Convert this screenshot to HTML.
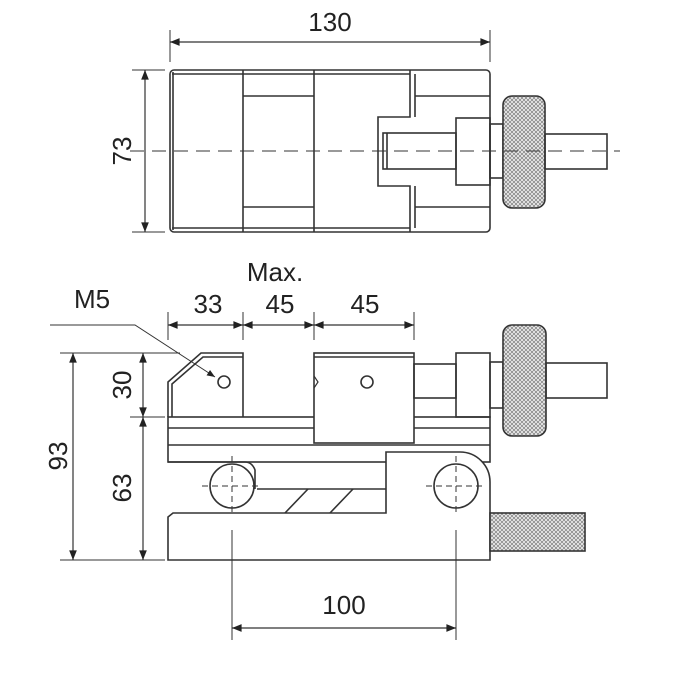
<!DOCTYPE html><html><head><style>body{margin:0;background:#fff}svg{display:block}text{font-family:"Liberation Sans",sans-serif;font-size:26px;fill:#222}</style></head><body>
<svg width="695" height="676" viewBox="0 0 695 676" xmlns="http://www.w3.org/2000/svg">
<defs>
<pattern id="k" width="4" height="4" patternUnits="userSpaceOnUse"><rect width="4" height="4" fill="#f2f2f2"/><path d="M0 0L4 4M4 0L0 4" stroke="#888" stroke-width="0.8"/></pattern>
<marker id="a" viewBox="0 0 10 10" refX="10" refY="5" markerWidth="11" markerHeight="8" orient="auto-start-reverse"><path d="M0 1L10 5L0 9z" fill="#222"/></marker>
</defs>
<g stroke="#333" stroke-width="1.6" fill="none">
<rect x="170" y="70" width="320" height="162" rx="4"/>
<line x1="173" y1="72" x2="173" y2="230"/>
<line x1="172" y1="74" x2="410" y2="74"/><line x1="172" y1="228" x2="410" y2="228"/>
<line x1="243" y1="70" x2="243" y2="232"/><line x1="314" y1="70" x2="314" y2="232"/>
<line x1="243" y1="96" x2="314" y2="96"/><line x1="243" y1="207" x2="314" y2="207"/>
<line x1="415" y1="96" x2="490" y2="96"/><line x1="415" y1="207" x2="490" y2="207"/>
<path d="M410 70V117H378V186H410V232"/><path d="M415 74V117M415 186V228"/>
<rect x="383" y="133" width="73" height="36"/><line x1="387" y1="133" x2="387" y2="169"/>
<rect x="456" y="118" width="34" height="67"/>
<rect x="490" y="124" width="13" height="54"/>
<rect x="503" y="96" width="42" height="112" rx="9" fill="url(#k)"/>
<rect x="545" y="134" width="62" height="35"/>
<line x1="130" y1="151" x2="620" y2="151" stroke-dasharray="14,8" stroke-width="1"/>
<line x1="170" y1="30" x2="170" y2="62" stroke-width="1"/><line x1="490" y1="30" x2="490" y2="62" stroke-width="1"/>
<line x1="170" y1="42" x2="490" y2="42" stroke-width="1.2" marker-start="url(#a)" marker-end="url(#a)"/>
<line x1="132" y1="70" x2="165" y2="70" stroke-width="1"/><line x1="132" y1="232" x2="165" y2="232" stroke-width="1"/>
<line x1="145" y1="70" x2="145" y2="232" stroke-width="1.2" marker-start="url(#a)" marker-end="url(#a)"/>
<path d="M168 417V382L201 353H243V417"/><path d="M172 417V384L203 357H243"/>
<rect x="168" y="417" width="322" height="45"/>
<line x1="168" y1="428" x2="490" y2="428"/><line x1="168" y1="445" x2="490" y2="445"/>
<rect x="314" y="353" width="100" height="90" fill="#fff"/>
<line x1="314" y1="357" x2="414" y2="357"/>
<path d="M314 376L318 382L314 388" stroke-width="1.2"/>
<circle cx="224" cy="382" r="6"/><circle cx="367" cy="382" r="6"/>
<rect x="414" y="364" width="42" height="34"/>
<rect x="456" y="353" width="34" height="64"/>
<rect x="490" y="362" width="13" height="46"/>
<rect x="503" y="325" width="43" height="111" rx="9" fill="url(#k)"/>
<rect x="546" y="363" width="61" height="35"/>
<path d="M168 560V517L173 513H386V452H460A30 30 0 0 1 490 482V560Z" fill="#fff"/>
<path d="M257 489H386"/>
<path d="M168 462H245Q252 462 255 470V489"/>
<path d="M285 513L308 489M330 513L353 489"/>
<circle cx="232" cy="486" r="22" fill="#fff"/><circle cx="456" cy="486" r="22" fill="#fff"/>
<g stroke-width="1" stroke-dasharray="6,4"><line x1="202" y1="486" x2="262" y2="486"/><line x1="232" y1="456" x2="232" y2="516"/><line x1="426" y1="486" x2="486" y2="486"/><line x1="456" y1="456" x2="456" y2="516"/></g>
<rect x="490" y="513" width="95" height="38" fill="url(#k)"/>
<g stroke-width="1">
<line x1="168" y1="312" x2="168" y2="340"/><line x1="243" y1="312" x2="243" y2="340"/><line x1="314" y1="312" x2="314" y2="340"/><line x1="414" y1="312" x2="414" y2="340"/>
<line x1="60" y1="353" x2="180" y2="353"/><line x1="60" y1="560" x2="165" y2="560"/><line x1="130" y1="417" x2="165" y2="417"/>
<line x1="232" y1="530" x2="232" y2="640"/><line x1="456" y1="530" x2="456" y2="640"/>
<path d="M50 325H135L215 377" marker-end="url(#a)"/>
</g>
<g stroke-width="1.2">
<line x1="168" y1="325" x2="243" y2="325" marker-start="url(#a)" marker-end="url(#a)"/>
<line x1="243" y1="325" x2="314" y2="325" marker-start="url(#a)" marker-end="url(#a)"/>
<line x1="314" y1="325" x2="414" y2="325" marker-start="url(#a)" marker-end="url(#a)"/>
<line x1="73" y1="353" x2="73" y2="560" marker-start="url(#a)" marker-end="url(#a)"/>
<line x1="143" y1="353" x2="143" y2="417" marker-start="url(#a)" marker-end="url(#a)"/>
<line x1="143" y1="417" x2="143" y2="560" marker-start="url(#a)" marker-end="url(#a)"/>
<line x1="232" y1="628" x2="456" y2="628" marker-start="url(#a)" marker-end="url(#a)"/>
</g>
</g>
<text x="330" y="31" text-anchor="middle">130</text>
<text transform="translate(131,151) rotate(-90)" text-anchor="middle">73</text>
<text x="275" y="281" text-anchor="middle">Max.</text>
<text x="92" y="308" text-anchor="middle">M5</text>
<text x="208" y="313" text-anchor="middle">33</text>
<text x="280" y="313" text-anchor="middle">45</text>
<text x="365" y="313" text-anchor="middle">45</text>
<text transform="translate(67,456) rotate(-90)" text-anchor="middle">93</text>
<text transform="translate(131,385) rotate(-90)" text-anchor="middle">30</text>
<text transform="translate(131,488) rotate(-90)" text-anchor="middle">63</text>
<text x="344" y="614" text-anchor="middle">100</text>
</svg></body></html>
